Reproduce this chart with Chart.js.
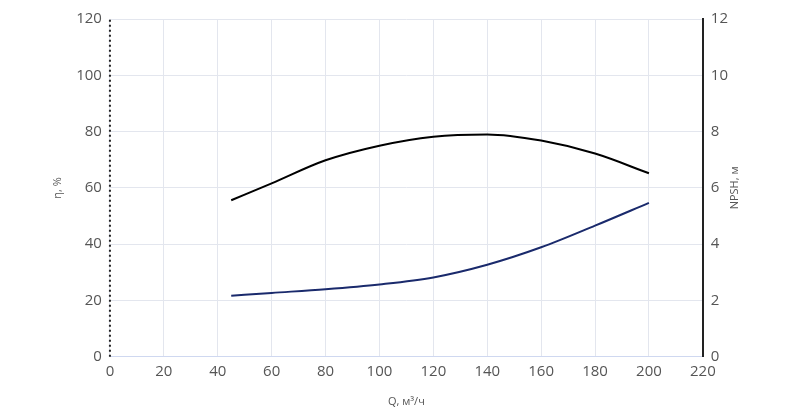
<!DOCTYPE html><html><head><script src="https://cdn.jsdelivr.net/npm/chart.js"></script>
<style>body{margin:0;background:#fff}#w{width:800px;height:408px}</style></head><body><div id="w"><canvas id="c"></canvas></div>
<script>
const qEff=[45,60,80,100,120,140,160,180,200];
const eff=[55.6,61.6,69.8,75,78.2,79,76.8,72.2,65.2];
const qNpsh=[45,60,80,100,120,140,160,180,200];
const npsh=[2.17,2.27,2.4,2.57,2.82,3.27,3.89,4.66,5.47];
const xTicks=[0,20,40,60,80,100,120,140,160,180,200,220];
const tc='#555';
const deco={id:'deco',afterDraw(ch){const c=ch.ctx,a=ch.chartArea;
c.save();c.strokeStyle='#222';c.lineWidth=2;c.setLineDash([2,3]);
c.beginPath();c.moveTo(a.left,a.bottom);c.lineTo(a.left,a.top);c.stroke();c.setLineDash([]);
c.fillStyle=tc;c.font='11px "Open Sans"';c.textAlign='center';c.textBaseline='middle';
c.translate(735,(a.top+a.bottom)/2);c.rotate(-Math.PI/2);c.fillText('NPSH, м',0,0);c.restore();}};
new Chart(document.getElementById('c'),{type:'line',plugins:[deco],
data:{datasets:[
{data:qEff.map((x,i)=>({x,y:eff[i]})),borderColor:'#000',borderWidth:2,pointRadius:0,yAxisID:'y',cubicInterpolationMode:'monotone'},
{data:qNpsh.map((x,i)=>({x,y:npsh[i]})),borderColor:'#1a2a6c',borderWidth:2,pointRadius:0,yAxisID:'y2',cubicInterpolationMode:'monotone'}]},
options:{responsive:true,maintainAspectRatio:false,animation:false,
layout:{padding:{left:47,right:64,top:19,bottom:0}},
plugins:{legend:{display:false},tooltip:{enabled:false}},
scales:{
x:{type:'linear',min:0,max:220,afterBuildTicks:a=>{a.ticks=xTicks.map(v=>({value:v}))},
grid:{color:'#e3e6ee',drawTicks:false},border:{color:'#cfd8f0'},
ticks:{color:tc,font:{family:'Open Sans',size:15},padding:6},
title:{display:true,text:'Q, м³/ч',color:tc,font:{family:'Open Sans',size:11},padding:{top:8,bottom:0}}},
y:{min:0,max:120,ticks:{stepSize:20,color:tc,font:{family:'Open Sans',size:15},padding:8},
grid:{color:'#e3e6ee',drawTicks:false},border:{display:false},
title:{display:true,text:'η, %',color:tc,font:{family:'Open Sans',size:11}}},
y2:{position:'right',min:0,max:12,ticks:{stepSize:2,color:tc,font:{family:'Open Sans',size:15},padding:8},
grid:{display:false,drawTicks:false},border:{color:'#222',width:2}}}}});
</script></body></html>
